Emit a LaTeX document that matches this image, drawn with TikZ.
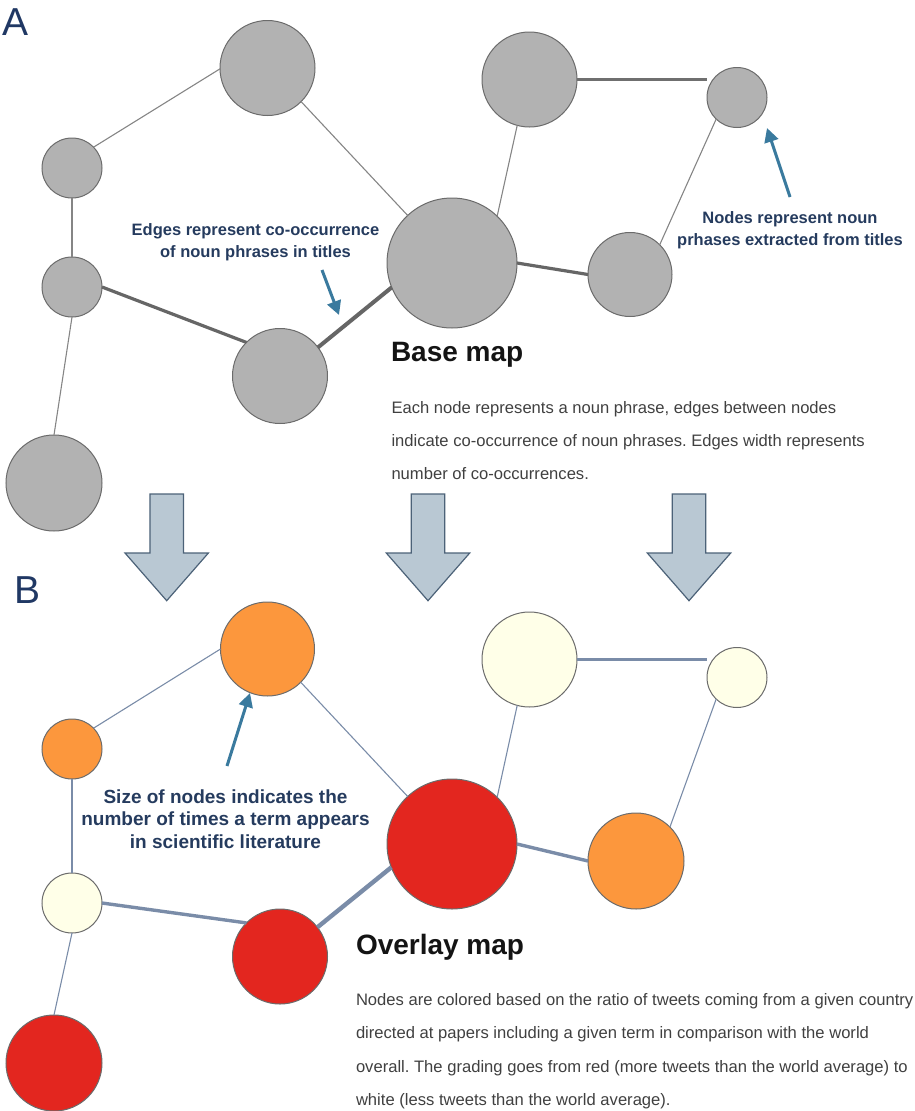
\documentclass[tikz,border=0pt]{standalone}
\usepackage{fontspec}
\setmainfont{Liberation Sans}
\usetikzlibrary{arrows.meta}
\frenchspacing
\definecolor{nodegray}{HTML}{B2B2B2}
\definecolor{nodestroke}{HTML}{6B6B6B}
\definecolor{orangefill}{HTML}{FC973D}
\definecolor{redfill}{HTML}{E3261F}
\definecolor{creamfill}{HTML}{FFFFE8}
\definecolor{edgegray}{HTML}{858585}
\definecolor{edgedark}{HTML}{666666}
\definecolor{edgeblue}{HTML}{7A8CA8}
\definecolor{annotblue}{HTML}{3A7A9E}
\definecolor{labelnavy}{HTML}{253B5E}
\definecolor{letternavy}{HTML}{203864}
\definecolor{arrowfill}{HTML}{B9C8D3}
\definecolor{arrowline}{HTML}{4C6278}
\definecolor{bodygray}{HTML}{404040}
\begin{document}
\frenchspacing
\begin{tikzpicture}[x=1pt,y=-1pt,
  every node/.style={inner sep=0pt,outer sep=0pt},
  vnode/.style={circle,draw=nodestroke,line width=1pt,minimum size=#1},
  grayv/.style={vnode=#1,fill=nodegray},
  orangev/.style={vnode=#1,fill=orangefill},
  redv/.style={vnode=#1,fill=redfill},
  creamv/.style={vnode=#1,fill=creamfill},
  thinA/.style={draw=edgegray,line width=1.1pt},
  midA/.style={draw=edgedark!70!edgegray,line width=2.2pt},
  thickA/.style={draw=edgedark,line width=3.2pt},
  heavyA/.style={draw=edgedark,line width=4pt},
  thinB/.style={draw=edgeblue,line width=1.1pt},
  midB/.style={draw=edgeblue,line width=2.4pt},
  thickB/.style={draw=edgeblue,line width=3.4pt},
  heavyB/.style={draw=edgeblue,line width=4.4pt},
  annot/.style={draw=annotblue,line width=3pt,-{Triangle[length=14pt,width=14pt]}},
  blockarrow/.style={fill=arrowfill,draw=arrowline,line width=1.2pt,line join=miter},
  lbl/.style={text=labelnavy,font=\bfseries\fontsize{16.5}{20}\selectfont,anchor=base},
  lblbig/.style={text=labelnavy,font=\bfseries\fontsize{19}{23}\selectfont,anchor=base},
  heading/.style={text=black!92,font=\bfseries\fontsize{28}{32}\selectfont,anchor=base west},
  body/.style={text=bodygray,font=\fontsize{16.6}{20}\selectfont,anchor=base west},
  panel/.style={text=letternavy,font=\fontsize{39}{44}\selectfont,anchor=base west}
]
\useasboundingbox (0,0) rectangle (915,1111);

% ---------------- Panel A ----------------
\node[panel] (lA) at (2,35) {A};

\node[grayv=95pt]  (aT1)  at (267.5,68) {};
\node[grayv=60pt]  (aL1)  at (72,168) {};
\node[grayv=60pt]  (aL2)  at (72,287) {};
\node[grayv=95pt]  (aM)   at (280,376) {};
\node[grayv=96pt]  (aBL)  at (54,483) {};
\node[grayv=130pt] (aC)   at (452,263) {};
\node[grayv=95pt]  (aTR1) at (529.5,79.5) {};
\node[grayv=60pt]  (aTR2) at (737,97.5) {};
\node[grayv=84pt]  (aR)   at (630,274.5) {};

\draw[thinA]  (aL1.44) -- (aT1.181);
\draw[thinA]  (aT1.315) -- (aC.133);
\draw[thinA]  (aL1.south) -- (aL2.north);
\draw[thickA] (aL2.east) -- (aM.135);
\draw[heavyA] (aM.37) -- (aC.202);
\draw[thinA]  (aL2.south) -- (aBL.north);
\draw[thinA]  (aC.46) -- (aTR1.255);
\draw[thickA] (aC.east) -- (aR.west);
\draw[midA]   (aTR1.east) -- (aTR1.east -| aTR2.west);
\draw[thinA]  (aTR2.226) -- (aR.45);

\coordinate (eaS) at (322,270);
\coordinate (eaE) at (339,315);
\draw[annot] (eaS) -- (eaE);
\coordinate (naS) at (790,197);
\coordinate (naE) at (767,128);
\draw[annot] (naS) -- (naE);

\node[lbl] (ea1) at (255.5,235) {Edges represent co-occurrence};
\node[lbl] (ea2) at (255.5,257) {of noun phrases in titles};
\node[lbl] (na1) at (790,223) {Nodes represent noun};
\node[lbl] (na2) at (790,245) {prhases extracted from titles};

\node[heading] (hA) at (391,361) {Base map};
\node[body] (bA1) at (391.5,413) {Each node represents a noun phrase, edges between nodes};
\node[body] (bA2) at (391.5,446.3) {indicate co-occurrence of noun phrases. Edges width represents};
\node[body] (bA3) at (391.5,479.6) {number of co-occurrences.};

% ---------------- Block arrows ----------------
\foreach \cx in {166.7,428,689}{
  \draw[blockarrow] ({\cx-16.8},494) -- ({\cx+16.8},494) -- ({\cx+16.8},553)
    -- ({\cx+41.7},553) -- (\cx,600.7) -- ({\cx-41.7},553) -- ({\cx-16.8},553) -- cycle;
}

% ---------------- Panel B ----------------
\node[panel] (lB) at (14,603) {B};

\node[orangev=94pt] (bT1)  at (267.5,649) {};
\node[orangev=60pt] (bL1)  at (72,749) {};
\node[creamv=60pt]  (bL2)  at (72,903) {};
\node[redv=95pt]    (bM)   at (280,956.5) {};
\node[redv=96pt]    (bBL)  at (54,1063) {};
\node[redv=130pt]   (bC)   at (452,844) {};
\node[creamv=95pt]  (bTR1) at (529.5,659.5) {};
\node[creamv=60pt]  (bTR2) at (737,677.5) {};
\node[orangev=96pt] (bR)   at (636,861) {};

\draw[thinB]  (bL1.44) -- (bT1.180);
\draw[thinB]  (bT1.315) -- (bC.133);
\draw[thinB]  (bL1.south) -- (bL2.north);
\draw[thickB] (bL2.east) -- (bM.135);
\draw[heavyB] (bM.38) -- (bC.201);
\draw[thinB]  (bL2.south) -- (bBL.north);
\draw[thinB]  (bC.46) -- (bTR1.255);
\draw[thickB] (bC.east) -- (bR.west);
\draw[midB]   (bTR1.east) -- (bTR1.east -| bTR2.west);
\draw[thinB]  (bTR2.226) -- (bR.45);

\coordinate (sbS) at (227,766);
\coordinate (sbE) at (250,693);
\draw[annot] (sbS) -- (sbE);

\node[lblbig] (sb1) at (225.5,803) {Size of nodes indicates the};
\node[lblbig] (sb2) at (225.5,825.5) {number of times a term appears};
\node[lblbig] (sb3) at (225.5,848) {in scientific literature};

\node[heading] (hB) at (356,954) {Overlay map};
\node[body] (bB1) at (356,1005.5) {Nodes are colored based on the ratio of tweets coming from a given country};
\node[body] (bB2) at (356,1038.8) {directed at papers including a given term in comparison with the world};
\node[body] (bB3) at (356,1072.1) {overall. The grading goes from red (more tweets than the world average) to};
\node[body] (bB4) at (356,1105.4) {white (less tweets than the world average).};
\end{tikzpicture}
\end{document}
